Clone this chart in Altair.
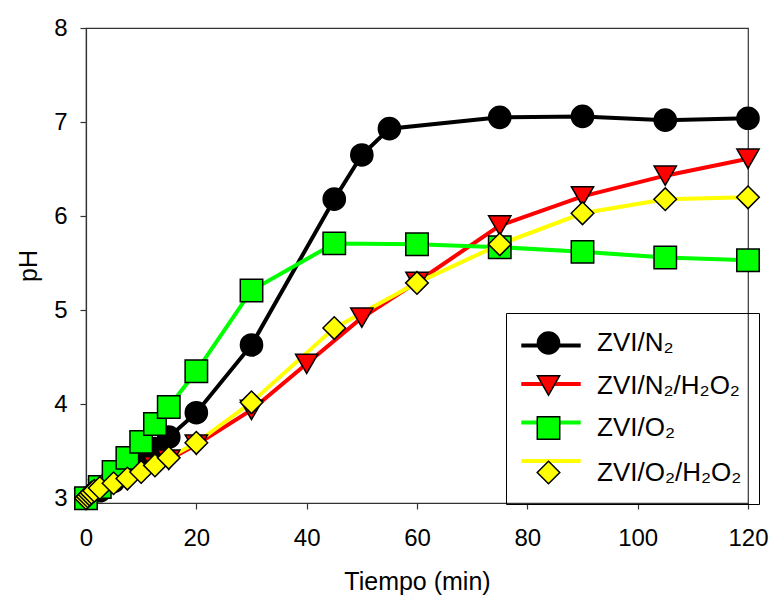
import altair as alt
import pandas as pd

SERIES = ["ZVI/N₂", "ZVI/N₂/H₂O₂", "ZVI/O₂", "ZVI/O₂/H₂O₂"]
LINE_KEYS = ["line-1", "line-2", "line-3", "line-4"]
COLORS = ["#000000", "#ff0000", "#00ff00", "#ffff00"]
EDGES = ["#000000", "#000000", "#000000", "#000000"]
SHAPES = ["circle", "triangle-down", "square", "diamond"]
SIZES = [490, 510, 342, 729]

t_n2 = [0, 2.5, 5, 7.5, 10, 12.5, 15, 20, 30, 45, 50, 55, 75, 90, 105, 120]
ph_n2 = [3.0, 3.08, 3.18, 3.3, 3.42, 3.53, 3.65, 3.91, 4.63, 6.18, 6.65, 6.93, 7.05, 7.06, 7.02, 7.04]

t_n2h = [0, 2.5, 5, 7.5, 10, 12.5, 15, 20, 30, 40, 50, 60, 75, 90, 105, 120]
ph_n2h = [3.0, 3.09, 3.15, 3.2, 3.27, 3.34, 3.41, 3.57, 3.94, 4.43, 4.92, 5.30, 5.90, 6.21, 6.43, 6.61]

t_o2 = [0, 2.5, 5, 7.5, 10, 12.5, 15, 20, 30, 45, 60, 75, 90, 105, 120]
ph_o2 = [3.0, 3.12, 3.28, 3.43, 3.6, 3.79, 3.97, 4.35, 5.21, 5.71, 5.70, 5.67, 5.62, 5.56, 5.53]

t_o2h = [0, 0.33, 0.67, 1, 1.5, 2.5, 5, 7.5, 10, 12.5, 15, 20, 30, 45, 60, 75, 90, 105, 120]
ph_o2h = [3.0, 3.02, 3.04, 3.06, 3.08, 3.11, 3.16, 3.21, 3.28, 3.35, 3.43, 3.59, 4.02, 4.81, 5.29, 5.70, 6.03, 6.18, 6.20]

rows = []
for name, key, ts, vs in zip(SERIES, LINE_KEYS, [t_n2, t_n2h, t_o2, t_o2h], [ph_n2, ph_n2h, ph_o2, ph_o2h]):
    for t, v in zip(ts, vs):
        rows.append({"t": t, "ph": v, "series": name, "series_l": key})
df = pd.DataFrame(rows)

FONT = "Liberation Sans"
ROWPAD = 14.5
PAD = 17
SYMOFF = 12.5

x = alt.X("t:Q", scale=alt.Scale(domain=[0, 120], nice=False),
          axis=alt.Axis(values=[0, 20, 40, 60, 80, 100, 120], title="Tiempo (min)",
                        labelFlush=False, labelOverlap=False))
y = alt.Y("ph:Q", scale=alt.Scale(domain=[2.95, 8], nice=False, zero=False),
          axis=alt.Axis(values=[3, 4, 5, 6, 7, 8], title="pH",
                        labelFlush=False, labelOverlap=False))

lines = alt.Chart(df).mark_line(strokeWidth=4).encode(
    x=x, y=y,
    color=alt.Color("series_l:N", scale=alt.Scale(domain=LINE_KEYS, range=COLORS),
                    legend=alt.Legend(
                        title=None, orient="none", legendX=420, legendY=285,
                        symbolType="M-2.2,0H2.2", symbolSize=729, symbolStrokeWidth=4,
                        labelExpr="''", labelOffset=178, symbolOffset=SYMOFF,
                        padding=PAD, rowPadding=ROWPAD, zindex=1)),
)

pleg = dict(title=None, orient="none", legendX=420, legendY=285,
            labelFontSize=26, labelFont=FONT, labelColor="#000000", labelOffset=35.5,
            symbolOffset=SYMOFF, padding=PAD, rowPadding=ROWPAD,
            symbolStrokeColor="#000000", symbolStrokeWidth=1.5,
            strokeColor="#000000", zindex=2)

points = alt.Chart(df).mark_point(filled=True, strokeWidth=1.5, opacity=1).encode(
    x=x, y=y,
    fill=alt.Fill("series:N", scale=alt.Scale(domain=SERIES, range=COLORS), legend=alt.Legend(**pleg)),
    stroke=alt.Stroke("series:N", scale=alt.Scale(domain=SERIES, range=EDGES), legend=alt.Legend(**pleg)),
    shape=alt.Shape("series:N", scale=alt.Scale(domain=SERIES, range=SHAPES), legend=alt.Legend(**pleg)),
    size=alt.Size("series:N", scale=alt.Scale(domain=SERIES, range=SIZES), legend=alt.Legend(**pleg)),
)

chart = alt.layer(lines, points).properties(
    width=662, height=475,
    autosize=alt.AutoSizeParams(type="none"),
    padding={"left": 86, "top": 28, "right": 24, "bottom": 92},
).configure_view(
    stroke="#333333", strokeWidth=1.2
).configure_axis(
    grid=False, domainColor="#333333", domainWidth=1.2, tickColor="#333333", tickWidth=1.2,
    tickSize=6, labelFont=FONT, labelFontSize=24, labelColor="#000000",
    titleFont=FONT, titleFontSize=25, titleFontWeight="normal", titleColor="#000000",
).configure_axisX(
    labelPadding=17, titlePadding=19,
).configure_axisY(
    labelPadding=13, titlePadding=12,
)

chart.save("out.html", embed_options={"renderer": "svg", "actions": False})
